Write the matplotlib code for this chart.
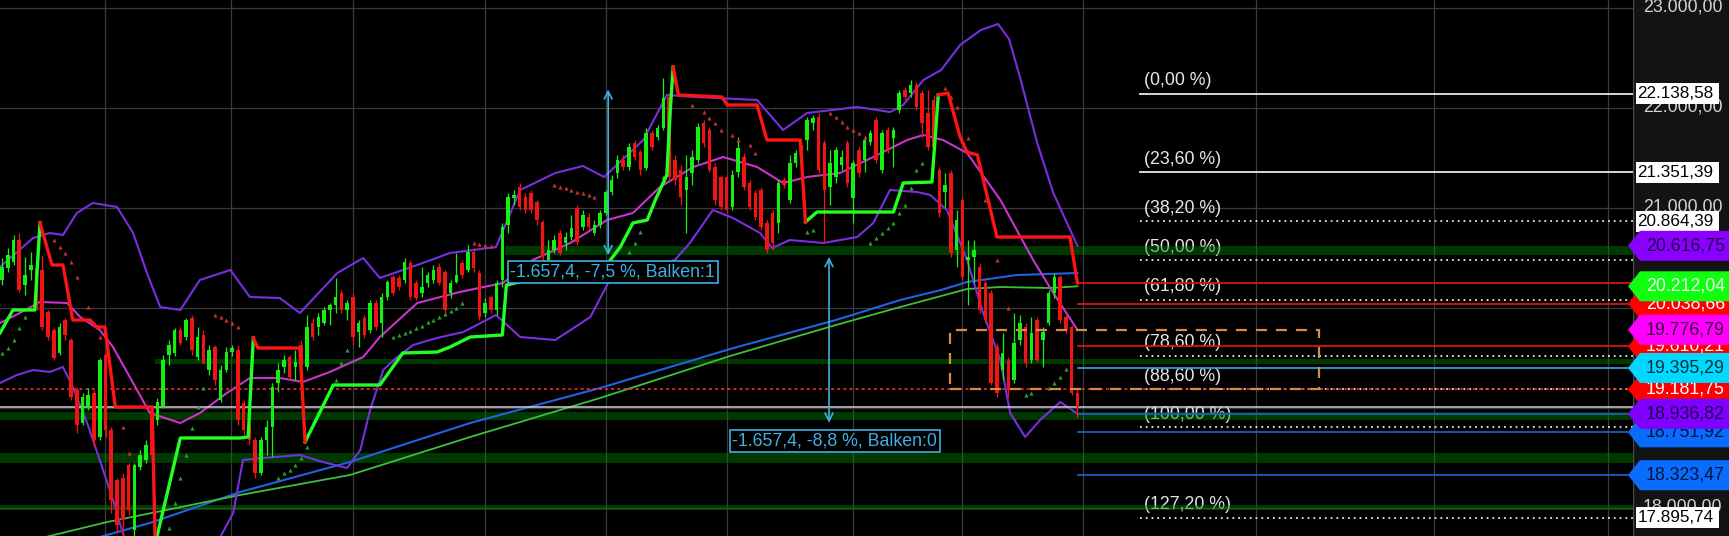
import numpy as np
import matplotlib.pyplot as plt
from matplotlib.patches import Polygon, Rectangle

plt.rcParams['font.family'] = ['Liberation Sans', 'DejaVu Sans']

# daily candles
opens = [20275, 20395, 20455, 20675, 20225, 20375, 20395, 20375, 19955, 19775,
         19545, 19875, 19675, 19175, 18845, 18995, 19145, 18705, 19525, 18775,
         18275, 18295, 18425, 17775, 18405, 18475, 18975, 18875, 19005, 19525,
         19545, 19775, 19705, 19895, 19505, 19725, 19375, 19605, 19075, 19375,
         19555, 19575, 19045, 18825, 18675, 18345, 18675, 18805, 19245, 19405,
         19505, 19405, 19625, 19405, 19845, 19805, 19845, 19975, 20025, 20145,
         19975, 20105, 19755, 19895, 19775, 20045, 19845, 20105, 20305, 20295,
         20275, 20445, 20245, 20145, 20245, 20275, 20405, 20355, 20145, 20255,
         20445, 20375, 20555, 20345, 19945, 20105, 19975, 20275, 20825, 21095,
         21205, 21105, 21145, 21055, 20855, 20475, 20575, 20745, 20645, 20705,
         20995, 20805, 20905, 20745, 20825, 20945, 21155, 21345, 21475, 21405,
         21645, 21555, 21395, 21745, 21705, 21795, 22105, 21475, 21375, 21175,
         21345, 21475, 21845, 21775, 21405, 21305, 21305, 21005, 21355, 21505,
         21245, 21145, 21175, 20845, 20945, 20845, 21275, 21075, 21445, 21625,
         21675, 21845, 21905, 21645, 21205, 21305, 21425, 21645, 21095, 21575,
         21475, 21655, 21875, 21375, 21775, 21695, 21975, 22175, 22145, 22225,
         22145, 21945, 22075, 21375, 21155, 21345, 20575, 21075, 20475, 20505,
         20405, 20245, 20145, 19605, 19375, 19475, 19275, 19675, 19805, 19475,
         19875, 19675, 19845, 20145, 20305, 19905, 19805, 19145]
closes = [20405, 20525, 20675, 20175, 20325, 20425, 20075, 19805, 19705, 19495,
          19805, 19725, 19105, 18825, 19105, 19125, 18675, 19475, 18775, 18075,
          17825, 17875, 17975, 18425, 18525, 18625, 18525, 19055, 19475, 19625,
          19775, 19645, 19875, 19575, 19705, 19445, 19575, 19275, 19375, 19555,
          19595, 18875, 18775, 18675, 18345, 18675, 18805, 19205, 19375, 19475,
          19305, 19455, 19425, 19805, 19705, 19905, 19975, 20025, 20105, 19975,
          20045, 19705, 19845, 19725, 20045, 19805, 20105, 20255, 20145, 20205,
          20455, 20105, 20095, 20205, 20325, 20375, 20245, 19975, 20245, 20325,
          20325, 20555, 20395, 19905, 20045, 19975, 20245, 20805, 21105, 21125,
          21005, 20975, 20975, 20875, 20505, 20575, 20675, 20545, 20705, 20795,
          20655, 20925, 20805, 20825, 20945, 21155, 21275, 21475, 21405, 21605,
          21505, 21375, 21745, 21605, 21795, 22095, 21305, 21275, 21105, 21305,
          21505, 21805, 21645, 21375, 21075, 21005, 20975, 21325, 21595, 21205,
          21005, 20905, 20805, 20575, 20645, 21245, 21225, 21445, 21545, 21555,
          21875, 21895, 21375, 21175, 21445, 21575, 21505, 21245, 21445, 21345,
          21675, 21745, 21475, 21745, 21575, 21775, 22145, 22105, 22225, 22005,
          21845, 21605, 21605, 20945, 21225, 20545, 20875, 20305, 20505, 20575,
          19975, 19875, 19245, 19145, 19545, 19175, 19645, 19845, 19445, 19745,
          19475, 19755, 20145, 20305, 19875, 19775, 19145, 19005]
highs = [20495, 20595, 20725, 20745, 20505, 20555, 20455, 20525, 19975, 19795,
         19845, 19895, 19695, 19205, 19145, 19195, 19175, 19495, 19555, 18805,
         18295, 18345, 18445, 18445, 18575, 18675, 19025, 19095, 19525, 19675,
         19795, 19805, 19895, 19925, 19805, 19775, 19625, 19625, 19425, 19605,
         19625, 19625, 19075, 18875, 18705, 18705, 18875, 19245, 19445, 19525,
         19525, 19575, 19675, 19925, 19895, 19945, 20005, 20045, 20295, 20175,
         20075, 20145, 19875, 19925, 20075, 20075, 20145, 20275, 20325, 20325,
         20495, 20475, 20275, 20405, 20355, 20425, 20445, 20375, 20275, 20545,
         20475, 20625, 20595, 20375, 20095, 20125, 20275, 20845, 21145, 21175,
         21245, 21145, 21175, 21075, 20875, 20675, 20725, 20775, 20755, 20925,
         21025, 20975, 20945, 20875, 20975, 21175, 21325, 21525, 21525, 21645,
         21675, 21575, 21795, 21775, 21825, 22300, 22145, 21525, 21425, 21525,
         21575, 21845, 21875, 21805, 21445, 21325, 21325, 21375, 21705, 21545,
         21275, 21175, 21205, 20875, 20975, 21275, 21305, 21525, 21575, 21655,
         21905, 21925, 21945, 21675, 21575, 21605, 21575, 21675, 21475, 21605,
         21705, 21775, 21905, 21775, 21805, 21805, 22175, 22205, 22275, 22255,
         22175, 22175, 22125, 21405, 21345, 21375, 20975, 21105, 20675, 20675,
         20445, 20275, 20175, 19645, 19745, 19505, 19945, 19925, 19845, 19905,
         19905, 19805, 20175, 20345, 20325, 19925, 19825, 19175]
lows = [20225, 20355, 20425, 20155, 20125, 20275, 19975, 19775, 19675, 19475,
        19525, 19675, 19075, 18745, 18825, 18975, 18605, 18675, 18705, 17945,
        17745, 17715, 17925, 17715, 18375, 18445, 18475, 18825, 18995, 19425,
        19515, 19625, 19675, 19525, 19475, 19435, 19325, 19225, 19055, 19355,
        19515, 18825, 18725, 18625, 18295, 18325, 18525, 18505, 19155, 19345,
        19275, 19275, 19395, 19375, 19675, 19725, 19825, 19825, 19945, 19945,
        19875, 19625, 19605, 19695, 19745, 19775, 19705, 20075, 20125, 20175,
        20245, 20075, 20075, 20105, 20205, 20245, 20225, 19925, 20095, 20245,
        20295, 20355, 20355, 19875, 19905, 19945, 19925, 20205, 20745, 21025,
        20975, 20945, 20945, 20825, 20455, 20425, 20545, 20525, 20575, 20675,
        20625, 20775, 20775, 20725, 20795, 20925, 21125, 21295, 21375, 21375,
        21475, 21325, 21375, 21575, 21675, 21775, 21275, 21225, 21025, 20745,
        21225, 21445, 21605, 21355, 21025, 20975, 20945, 20975, 21305, 21175,
        20975, 20875, 20775, 20545, 20575, 20745, 21195, 21045, 21405, 21525,
        21575, 21775, 21345, 20645, 21025, 21245, 21375, 21205, 20845, 21305,
        21355, 21625, 21445, 21345, 21545, 21405, 21945, 22075, 22105, 21975,
        21705, 21575, 21575, 20905, 21005, 20505, 20405, 20275, 20025, 20245,
        19945, 19845, 19225, 19105, 19275, 19105, 19245, 19625, 19405, 19445,
        19455, 19405, 19825, 20095, 19845, 19745, 19125, 18895]

# indicator curves as (bar, price) points
bb_upper_x = [-0.35, 5.4, 8.3, 10.6, 13.0, 15.8, 20.0, 22.8, 25.2, 27.5, 31.0, 34.4, 39.7, 43.1,
              48.3, 51.8, 58.3, 62.8, 65.7, 72.2, 77.9, 85.9, 90.1, 96.2, 101.0, 104.7, 111.5,
              115.6, 120.7, 131.3, 135.8, 140.0, 148.7, 154.4, 156.7, 160.2, 163.3, 166.6,
              170.2, 173.2, 175.1, 177.0, 180.0, 182.8, 187.0]
bb_upper_y = [20405, 20695, 20745, 20725, 20945, 21045, 21005, 20745, 20345, 20005, 19975, 20275,
              20375, 20105, 20095, 19945, 20345, 20495, 20295, 20425, 20545, 20605, 21175, 21345,
              21415, 21305, 21675, 22125, 22105, 22075, 21775, 21945, 22005, 21955, 22025, 22275,
              22375, 22625, 22775, 22835, 22685, 22305, 21645, 21145, 20616.75]
bb_mid_x = [-0.35, 3.1, 6.6, 11.3, 13.6, 17.0, 19.3, 22.8, 25.7, 31.0, 34.4, 39.1, 43.1, 48.3,
            52.3, 57.0, 62.8, 65.7, 72.2, 79.6, 87.1, 92.3, 98.8, 105.2, 109.7, 114.4, 120.2,
            125.4, 131.3, 135.8, 140.0, 145.7, 151.5, 157.4, 160.2, 163.6, 167.8, 173.6, 179.3,
            182.8, 187.0]
bb_mid_y = [19845, 19945, 20055, 20045, 19905, 19775, 19605, 19245, 18945, 18845, 18945, 19145,
            19295, 19295, 19255, 19355, 19505, 19705, 20045, 20155, 20245, 20475, 20645, 20875,
            20945, 21205, 21405, 21505, 21405, 21245, 21305, 21345, 21505, 21675, 21725, 21675,
            21545, 21075, 20475, 20145, 19776.79]
bb_lower_x = [-0.35, 2.6, 5.4, 8.3, 10.6, 12.3, 14.8, 17.0, 19.3, 21.0, 24.0, 34.4, 40.2, 41.9,
              45.4, 51.8, 55.8, 60.0, 62.3, 64.0, 66.3, 68.7, 71.5, 75.6, 80.2, 85.9, 90.1, 96.2,
              102.3, 105.4, 111.5, 117.0, 119.6, 123.6, 127.1, 131.8, 133.9, 137.0, 142.8, 148.7,
              151.5, 154.4, 159.1, 161.4, 164.3, 167.8, 170.6, 173.6, 175.3, 177.9, 180.5, 184.0,
              187.0]
bb_lower_y = [19245, 19325, 19375, 19355, 19405, 19205, 18845, 18475, 18075, 17745, 17325, 17325,
              17945, 18475, 18495, 18525, 18455, 18395, 18575, 18975, 19375, 19505, 19625, 19695,
              19755, 19925, 19705, 19675, 19905, 20245, 20375, 20475, 20645, 20975, 20895, 20745,
              20595, 20675, 20645, 20705, 20845, 21175, 21155, 21125, 20975, 20475, 19945, 19475,
              18945, 18705, 18875, 19055, 18936.82]
ma_blue_x = [8.3, 17.6, 25.7, 41.4, 60.5, 81.4, 104.0, 126.6, 145.0, 156.2, 163.3, 167.8, 176.5, 187.0]
ma_blue_y = [17525, 17715, 17845, 18155, 18455, 18845, 19195, 19585, 19875, 20075, 20175, 20255,
             20325, 20345]
ma_green_x = [-0.35, 8.3, 18.3, 41.4, 60.5, 81.4, 104.0, 126.6, 145.0, 156.2, 163.3, 167.8, 173.6,
              182.3, 187.0]
ma_green_y = [17595, 17715, 17855, 18125, 18325, 18705, 19095, 19515, 19825, 20005, 20115, 20185,
              20205, 20195, 20212.04]

# trailing stop, green (long) and red (short) legs
st_green_x = [[-0.35, 1.9, 5.7, 6.6],
              [26.6, 31.0, 41.4, 42.8, 43.7],
              [52.7, 57.6, 65.7, 69.7, 75.7, 77.9, 81.4, 87.0, 87.7, 95.3, 105.4, 107.5, 109.7,
               112.2, 113.6, 115.6, 116.2, 116.7],
              [139.7, 141.7, 155.0, 156.7, 161.7, 162.8]]
st_green_y = [[19745, 19975, 19975, 20845],
              [17625, 18695, 18695, 18705, 19695],
              [18655, 19225, 19225, 19545, 19555, 19605, 19705, 19725, 20225, 20325, 20445, 20605,
               20845, 20875, 21075, 21325, 21975, 22405],
              [20855, 20955, 20955, 21245, 21255, 22125]]
st_red_x = [[6.6, 8.7, 10.6, 12.3, 15.3, 16.5, 17.9, 19.7, 26.1, 26.6],
            [43.7, 44.5, 51.8, 52.7],
            [116.7, 117.6, 125.2, 126.1, 131.3, 133.0, 138.8, 139.7],
            [162.8, 164.5, 166.6, 167.8, 169.6, 173.0, 185.7, 187.0]]
st_red_y = [[20845, 20425, 20425, 19875, 19875, 19805, 19805, 19005, 19005, 17725],
            [19695, 19595, 19595, 18655],
            [22405, 22125, 22105, 22025, 22025, 21675, 21675, 20855],
            [22125, 22145, 21705, 21555, 21525, 20705, 20705, 20245]]

# parabolic SAR dots
sar_up_x = [0, 1, 2, 3, 4, 29, 30, 31, 32, 33, 34, 35, 48, 49, 50, 51, 52, 53, 58, 59, 60,
            68, 69, 70, 71, 72, 73, 74, 75, 76, 77, 78, 79, 80, 109, 110, 111, 115, 140, 141,
            151, 152, 153, 154, 155, 156, 157, 158, 159, 160, 178, 179, 182, 183, 184, 185]
sar_up_y = [19545, 19595, 19675, 19795, 19905, 17795, 18045, 18295, 18525, 18795, 19005, 19195,
            18295, 18345, 18375, 18425, 18495, 18605, 19275, 19445, 19575,
            19705, 19725, 19745, 19765, 19795, 19815, 19855, 19875, 19905, 19935, 19965, 19995,
            20045, 20555, 20645, 20755, 21305, 20755, 20775,
            20645, 20695, 20745, 20795, 20845, 20945, 21025, 21195, 21375, 21445,
            19125, 19145, 19195, 19245, 19305, 19385]
sar_dn_x = [9, 10, 11, 12, 13, 15, 17, 21, 22, 37, 38, 39, 40, 41, 82, 83, 84, 85,
            96, 97, 98, 99, 100, 101, 102, 103, 120, 122, 123, 124, 125, 127, 128, 130, 131,
            144, 145, 146, 147, 148, 149, 150, 164, 165, 166, 168, 171, 173, 175]
sar_dn_y = [20675, 20605, 20545, 20455, 20305, 20005, 19705, 18805, 18545,
            19925, 19905, 19875, 19845, 19805, 20645, 20635, 20625, 20615,
            21225, 21205, 21195, 21175, 21155, 21145, 21125, 21105,
            22025, 21955, 21895, 21845, 21775, 21725, 21675, 21625, 21545,
            21945, 21905, 21855, 21805, 21775, 21745, 21705,
            22195, 22105, 22005, 21695, 21075, 20475, 19995]

# support zones
zone_start = [87.5, 26.6, -0.35, -0.35, -0.35]
zone_lo = [20525, 19435, 18875, 18445, 17975]
zone_hi = [20615, 19485, 18955, 18545, 18025]

# fibonacci retracement
fib_top = 22138.58
fib_span = 3335.6
fib_pct = [0, 23.6, 38.2, 50, 61.8, 78.6, 88.6, 100, 127.2]

grid_x = [17.9, 39.8, 61.0, 84.0, 105.0, 126.1, 148.0, 166.9, 188.0, 218.1, 249.0, 279.3]
grid_y = [18000, 19000, 20000, 21000, 22000, 23000]

# levels drawn from the last bar to the price scale
lvl_price = [20245, 20038.66, 19610.21, 19395.29, 18936.82, 18751.92, 18323.47]
lvl_color = ['#e01010', '#e01010', '#e01010', '#2aa0d8', '#1a5fc0', '#1a5fc0', '#1a5fc0']

# price tags on the axis: value, face, text colour (drawing order)
tag_val = [20038.66, 19610.21, 19181.75, 18751.92, 20212.04, 19776.79, 19395.29, 18936.82,
           20616.75, 18323.47]
tag_face = ['#ff0000', '#ff0000', '#ff0000', '#0a6cff', '#10ff10', '#ff00ff', '#00d8ff',
            '#8000ff', '#8a00ff', '#0a6cff']
tag_text = ['white', 'white', 'white', '#00163a', '#f0fff0', '#3a003a', '#00303a',
            '#20004a', '#20004a', '#00163a']
box_val = [22138.58, 21351.39, 20864.39, 17895.74]


def de(v):
    s = f"{v:,.2f}"
    return s.replace(',', ' ').replace('.', ',').replace(' ', '.')


YMIN, YMAX = 17715, 23075
XMIN, XMAX = -0.35, 283.6
fs = 12.8

fig = plt.figure(figsize=(17.29, 5.36), dpi=100)
fig.patch.set_facecolor('#131313')
ax = fig.add_axes([0, 0, 1633 / 1729, 1])
ax.set_facecolor('black')
ax.set_xlim(XMIN, XMAX)
ax.set_ylim(YMIN, YMAX)
ax.set_xticks([])
ax.set_yticks([])
for s in ax.spines.values():
    s.set_visible(False)

for gx in grid_x:
    ax.axvline(gx, color='#3a3a3a', lw=0.9, zorder=0.5)
for gy in grid_y:
    ax.axhline(gy, color='#3a3a3a', lw=0.9, zorder=0.5)

# fib levels
fib_x0 = 197.9
for p in fib_pct:
    lv = fib_top - p / 100 * fib_span
    ls = '-' if p in (0, 23.6) else (0, (1, 2.2))
    ax.plot([fib_x0, XMAX], [lv, lv], color='#e8e8e8', lw=1.3, ls=ls, zorder=1)
    ax.text(fib_x0 + 0.7, lv + 45, f"({de(p)} %)", color='#e6e6e6', fontsize=fs,
            ha='left', va='bottom', zorder=1)

# support zones
for x0, lo, hi in zip(zone_start, zone_lo, zone_hi):
    ax.fill_between([x0, XMAX], lo, hi, color=(0, 0.5, 0), alpha=0.45, lw=0, zorder=2)

# moving averages and bands
ax.plot(ma_blue_x, ma_blue_y, color='#2262e0', lw=1.5, zorder=3)
ax.plot(ma_green_x, ma_green_y, color='#3cc03c', lw=1.3, zorder=3)
ax.plot(bb_upper_x, bb_upper_y, color='#7a2ee0', lw=1.5, zorder=3)
ax.plot(bb_lower_x, bb_lower_y, color='#7a2ee0', lw=1.5, zorder=3)
ax.plot(bb_mid_x, bb_mid_y, color='#cc33cc', lw=1.5, zorder=3)

# horizontal levels
x_last = len(closes) - 1 + 0.1
for p, c in zip(lvl_price, lvl_color):
    ax.plot([x_last, XMAX], [p, p], color=c, lw=1.3, zorder=3)
ax.axhline(19181.75, color='#ff3030', lw=1.1, ls=(0, (2, 2)), zorder=3.5)
ax.axhline(closes[-1], color='#cfcfcf', lw=1.1, zorder=3.5)

# candles
x = np.arange(len(closes))
o = np.array(opens)
c = np.array(closes)
h = np.array(highs)
l = np.array(lows)
col = np.where(c >= o, '#14f014', '#f01414')
ax.vlines(x, l, h, colors=col, lw=0.9, zorder=4)
ax.bar(x, np.maximum(np.abs(c - o), 12), bottom=np.minimum(o, c), width=0.62, color=col,
       lw=0, zorder=4)

ax.plot(sar_up_x, sar_up_y, '^', color='#2aa02a', ms=3, mew=0, zorder=4)
ax.plot(sar_dn_x, sar_dn_y, '^', color='#c83030', ms=3, mew=0, zorder=4)

for xs, ys in zip(st_green_x, st_green_y):
    ax.plot(xs, ys, color='#22ff22', lw=2.4, zorder=5, solid_joinstyle='round')
for xs, ys in zip(st_red_x, st_red_y):
    ax.plot(xs, ys, color='#ff1414', lw=2.4, zorder=5, solid_joinstyle='round')

# box of the last swing
ax.add_patch(Rectangle((164.9, 19181.75), 229.0 - 164.9, 19776.79 - 19181.75, fill=False,
                       ec='#d98a4a', lw=1.6, ls=(0, (5, 4)), zorder=6))

# measurements
mcol = '#3fb0e0'
ax.annotate('', xy=(105.4, 22180.6), xytext=(105.4, 20523.2),
            arrowprops=dict(arrowstyle='<->', color=mcol, lw=1.2, shrinkA=0, shrinkB=0,
                            mutation_scale=14), zorder=6)
ax.annotate('', xy=(143.8, 20505), xytext=(143.8, 18847.6),
            arrowprops=dict(arrowstyle='<->', color=mcol, lw=1.2, shrinkA=0, shrinkB=0,
                            mutation_scale=14), zorder=6)
ax.text(88.4, 20355, '-1.657,4, -7,5 %, Balken:1', color=mcol, fontsize=fs, ha='left',
        va='center', zorder=7,
        bbox=dict(boxstyle='square,pad=0.16', fc='black', ec=mcol, lw=1.2))
ax.text(127.0, 18665, '-1.657,4, -8,8 %, Balken:0', color=mcol, fontsize=fs, ha='left',
        va='center', zorder=7,
        bbox=dict(boxstyle='square,pad=0.16', fc='black', ec=mcol, lw=1.2))

# price scale
ax2 = fig.add_axes([1633 / 1729, 0, 96 / 1729, 1])
ax2.set_facecolor('#131313')
ax2.set_xlim(0, 96)
ax2.set_ylim(YMIN, YMAX)
ax2.set_xticks([])
ax2.set_yticks([])
for s in ax2.spines.values():
    s.set_visible(False)
ax2.axvline(0.3, color='#4a4a4a', lw=1)

for gy in grid_y:
    ax2.text(10, gy, de(gy), color='#d4d4d4', fontsize=fs, ha='left', va='center', zorder=1)

for v in box_val:
    ax2.add_patch(Rectangle((3, v - 105), 83, 210, fc='white', ec='none', zorder=2,
                            clip_on=False))
    ax2.text(4.5, v, de(v), color='black', fontsize=12.3, ha='left', va='center', zorder=2.1)

for i, (v, fc, tc) in enumerate(zip(tag_val, tag_face, tag_text)):
    z = 3 + i * 0.1
    ax2.add_patch(Polygon([(-5, v), (7, v + 150), (96, v + 150), (96, v - 150), (7, v - 150)],
                          closed=True, fc=fc, ec='none', zorder=z, clip_on=False))
    ax2.text(13, v, de(v), color=tc, fontsize=fs, ha='left', va='center', zorder=z + 0.05)

fig.savefig('out.png', dpi=100, facecolor=fig.get_facecolor())
